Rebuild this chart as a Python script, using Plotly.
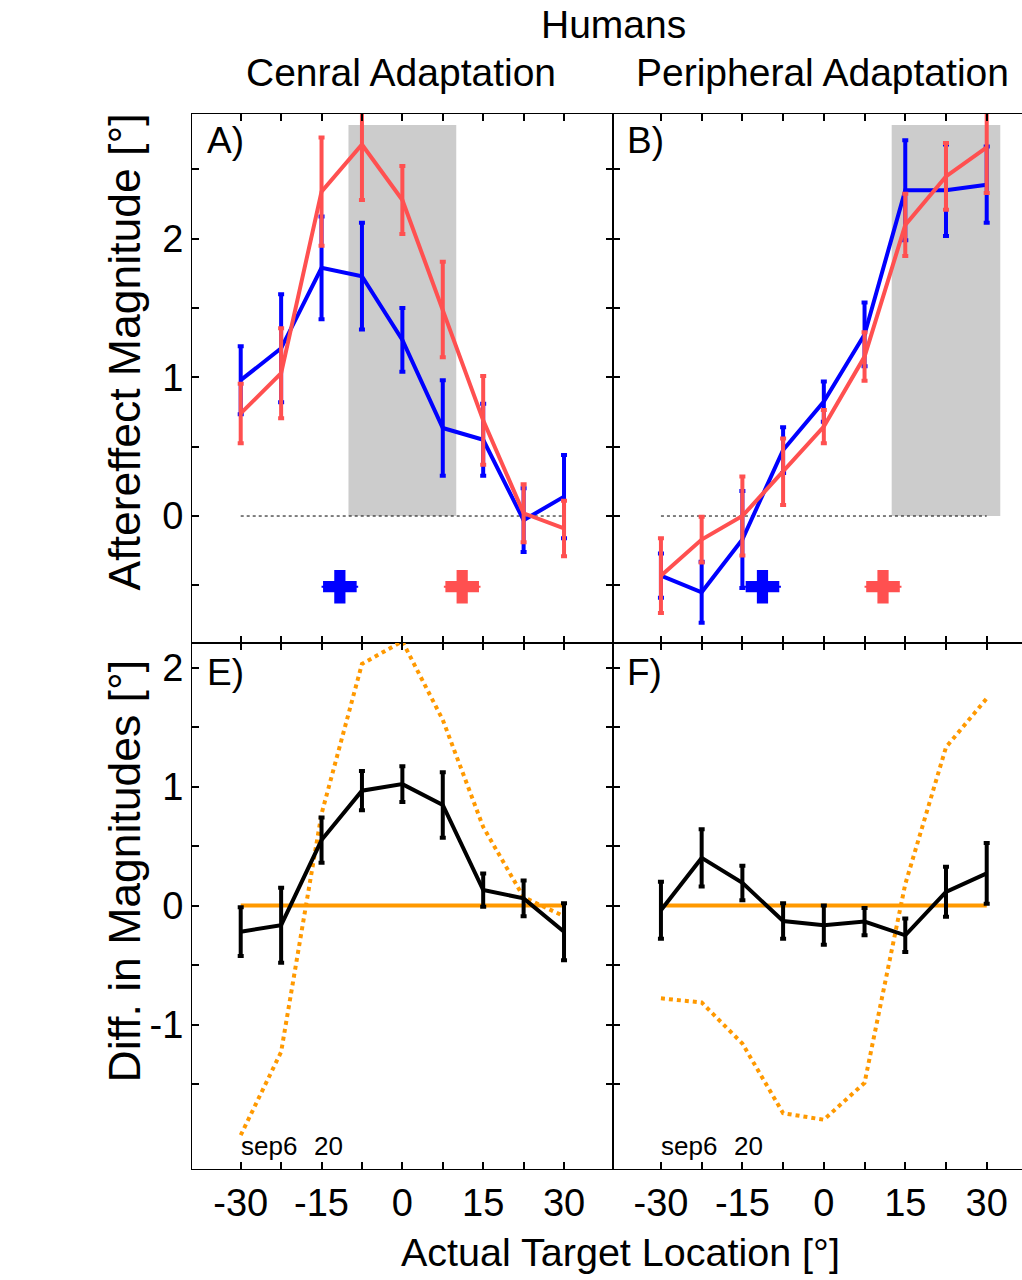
import plotly.graph_objects as go
from plotly.subplots import make_subplots

# ---------------- data ----------------
x_loc = [-30, -22.5, -15, -7.5, 0, 7.5, 15, 22.5, 30]
x_tick_text = ["-30", "", "-15", "", "0", "", "15", "", "30"]

# Panel A (central adaptation)
a_blue = [0.98, 1.21, 1.79, 1.73, 1.27, 0.635, 0.55, -0.03, 0.14]
a_blue_err = [0.245, 0.39, 0.37, 0.385, 0.23, 0.345, 0.26, 0.23, 0.30]
a_red = [0.74, 1.03, 2.34, 2.68, 2.28, 1.49, 0.69, 0.02, -0.09]
a_red_err = [0.215, 0.325, 0.39, 0.40, 0.245, 0.345, 0.32, 0.21, 0.20]
a_plus_x = [-11.6, 11.1]
a_region = [-10, 10]

# Panel B (peripheral adaptation)
b_blue = [-0.43, -0.55, -0.17, 0.476, 0.825, 1.31, 2.35, 2.35, 2.39]
b_blue_err = [0.16, 0.22, 0.35, 0.165, 0.145, 0.23, 0.36, 0.33, 0.275]
b_red = [-0.43, -0.17, 0.0, 0.32, 0.645, 1.15, 2.10, 2.45, 2.66]
b_red_err = [0.27, 0.165, 0.285, 0.24, 0.12, 0.175, 0.225, 0.24, 0.33]
b_plus_x = [-11.3, 10.9]
b_region = [12.5, 32.5]

plus_y = -0.51
region_top = 2.82

# Panel E / F (differences)
e_diff = [-0.22, -0.165, 0.55, 0.965, 1.02, 0.845, 0.13, 0.06, -0.22]
e_err = [0.205, 0.315, 0.19, 0.165, 0.15, 0.275, 0.14, 0.15, 0.24]
e_model = [-1.93, -1.23, 0.77, 2.03, 2.22, 1.56, 0.66, 0.07, -0.09]

f_diff = [-0.04, 0.40, 0.19, -0.13, -0.165, -0.135, -0.25, 0.115, 0.27]
f_err = [0.24, 0.24, 0.145, 0.15, 0.165, 0.115, 0.14, 0.21, 0.255]
f_model = [-0.78, -0.815, -1.16, -1.745, -1.80, -1.49, 0.18, 1.33, 1.74]

zero_x = [-30, 30]
zero_y = [0, 0]

top_ticks = [-0.5, 0, 0.5, 1, 1.5, 2, 2.5]
top_tick_text = ["", "0", "", "1", "", "2", ""]
bot_ticks = [-1.5, -1, -0.5, 0, 0.5, 1, 1.5, 2]
bot_tick_text = ["", "-1", "", "0", "", "1", "", "2"]

BLUE = "#0000FF"
RED = "#FF5050"
ORANGE = "#FF9900"
GRAY = "#CCCCCC"
FONT = "Liberation Sans, Arial, sans-serif"

# ---------------- figure ----------------
fig = make_subplots(rows=2, cols=2, horizontal_spacing=0, vertical_spacing=0,
                    column_widths=[421, 409], row_heights=[529, 526])


def err(arr, color):
    return dict(type="data", array=arr, visible=True, color=color,
                thickness=4, width=3)


def add_top(row, col, blue, blue_err, red, red_err, plus_x):
    fig.add_trace(go.Scatter(x=zero_x, y=zero_y, mode="lines",
                             line=dict(color="black", width=1, dash="dot"),
                             showlegend=False, hoverinfo="skip"), row=row, col=col)
    fig.add_trace(go.Scatter(x=x_loc, y=blue, mode="lines",
                             line=dict(color=BLUE, width=4),
                             error_y=err(blue_err, BLUE), showlegend=False),
                  row=row, col=col)
    fig.add_trace(go.Scatter(x=x_loc, y=red, mode="lines",
                             line=dict(color=RED, width=4),
                             error_y=err(red_err, RED), showlegend=False),
                  row=row, col=col)
    for px, c in zip(plus_x, [BLUE, RED]):
        fig.add_trace(go.Scatter(x=[px], y=[plus_y], mode="markers",
                                 marker=dict(symbol="cross", size=28, color=c,
                                             line=dict(width=0)),
                                 error_x=dict(type="data", array=[3.4], color=c,
                                              thickness=2, width=0),
                                 showlegend=False), row=row, col=col)


def add_bottom(row, col, diff, derr, model):
    fig.add_trace(go.Scatter(x=zero_x, y=zero_y, mode="lines",
                             line=dict(color=ORANGE, width=4),
                             showlegend=False), row=row, col=col)
    fig.add_trace(go.Scatter(x=x_loc, y=model, mode="lines",
                             line=dict(color=ORANGE, width=4, dash="dot"),
                             showlegend=False), row=row, col=col)
    fig.add_trace(go.Scatter(x=x_loc, y=diff, mode="lines",
                             line=dict(color="black", width=4),
                             error_y=err(derr, "black"), showlegend=False),
                  row=row, col=col)


add_top(1, 1, a_blue, a_blue_err, a_red, a_red_err, a_plus_x)
add_top(1, 2, b_blue, b_blue_err, b_red, b_red_err, b_plus_x)
add_bottom(2, 1, e_diff, e_err, e_model)
add_bottom(2, 2, f_diff, f_err, f_model)

# gray regions
for reg, xr, yr in [(a_region, "x", "y"), (b_region, "x2", "y2")]:
    fig.add_shape(type="rect", xref=xr, yref=yr, x0=reg[0], x1=reg[1],
                  y0=0, y1=region_top, fillcolor=GRAY, line=dict(width=0),
                  layer="below")

axis_common = dict(showline=True, linecolor="black", linewidth=1.2,
                   ticks="inside", ticklen=7, tickwidth=1.5, tickcolor="black",
                   showgrid=False, zeroline=False,
                   tickfont=dict(family=FONT, size=38, color="black"))

xl_range = [-39.04, 39.09]
xr_range = [-38.83, 36.5]
yt_range = [-0.916, 2.90]
yb_range = [-2.214, 2.206]

# x axes
fig.update_xaxes(**axis_common, tickvals=x_loc, ticktext=x_tick_text)
fig.update_xaxes(range=xl_range, mirror="ticks", col=1)
fig.update_xaxes(range=xr_range, mirror="ticks", col=2)
fig.update_xaxes(showticklabels=False, row=1)
fig.update_xaxes(showticklabels=True, row=2)

# y axes
fig.update_yaxes(**axis_common)
fig.update_yaxes(range=yt_range, tickvals=top_ticks, ticktext=top_tick_text, row=1)
fig.update_yaxes(range=yb_range, tickvals=bot_ticks, ticktext=bot_tick_text, row=2)
fig.update_yaxes(mirror="ticks", col=1)
fig.update_yaxes(mirror=False, showticklabels=False, col=2)

W, H = 1022, 1280
L, R, T, B = 192, 0, 114, 111
pw, ph = W - L - R, H - T - B


def px(xp):
    return (xp - L) / pw


def py(yp):
    return (H - B - yp) / ph


annotations = [
    dict(text="Humans", x=px(613.5), y=py(25), size=39),
    dict(text="Cenral Adaptation", x=px(400.5), y=py(72), size=39),
    dict(text="Peripheral Adaptation", x=px(822.5), y=py(72), size=39),
    dict(text="Actual Target Location [°]", x=px(620.5), y=py(1252), size=39.5),
]
for a in annotations:
    fig.add_annotation(text=a["text"], x=a["x"], y=a["y"], xref="paper",
                       yref="paper", xanchor="center", yanchor="middle",
                       showarrow=False,
                       font=dict(family=FONT, size=a["size"], color="black"))

for text, yc in [("Aftereffect Magnitude [°]", 352.5),
                 ("Diff. in Magnitudes [°]", 871.5)]:
    fig.add_annotation(text=text, x=px(124), y=py(yc), xref="paper",
                       yref="paper", xanchor="center", yanchor="middle",
                       textangle=-90, showarrow=False,
                       font=dict(family=FONT, size=44.5, color="black"))

for lab, xr, yr, yy in [("A)", "x domain", "y domain", 0.949),
                        ("B)", "x2 domain", "y2 domain", 0.949),
                        ("E)", "x3 domain", "y3 domain", 0.943),
                        ("F)", "x4 domain", "y4 domain", 0.943)]:
    fig.add_annotation(text=lab, x=0.03, y=yy, xref=xr, yref=yr,
                       xanchor="left", yanchor="middle", showarrow=False,
                       font=dict(family=FONT, size=37, color="black"))

for xr, yr in [("x3", "y3"), ("x4", "y4")]:
    fig.add_annotation(text="sep6\u00a0\u00a0\u200a20", x=-30.3, y=-2.02, xref=xr,
                       yref=yr, xanchor="left", yanchor="middle",
                       showarrow=False,
                       font=dict(family=FONT, size=26, color="black"))

fig.update_layout(width=W, height=H,
                  margin=dict(l=L, r=R, t=T, b=B, pad=0),
                  paper_bgcolor="white", plot_bgcolor="white",
                  showlegend=False,
                  font=dict(family=FONT, color="black"))

fig.write_html("out.html")
